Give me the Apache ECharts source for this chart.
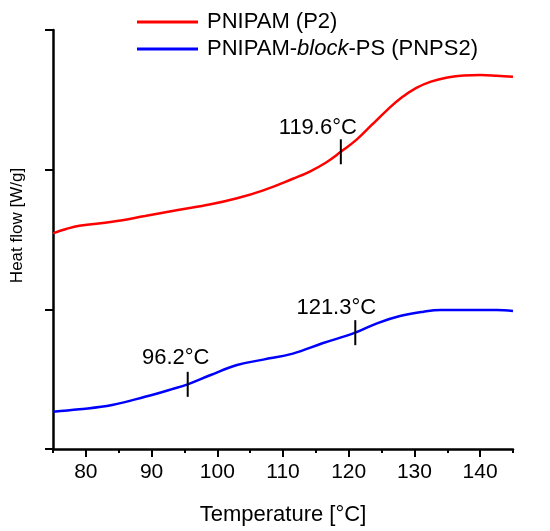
<!DOCTYPE html>
<html lang="en">
<head>
    <meta charset="UTF-8">
    <title>DSC</title>
    <style>
        html, body { margin: 0; padding: 0; background: #fff; }
    </style>
</head>
<body>
    <div id="main" style="width: 550px;height:531px;"></div>
    <script src="https://cdn.jsdelivr.net/npm/echarts@6/dist/echarts.min.js"></script>
<script type="text/javascript">
    // data
    var redT  = [75, 77, 79, 84, 89, 94, 99, 103, 107, 111.5, 114, 116.5, 118.8, 121.2, 123.5, 125.8, 128, 130.3, 132.5, 135, 137.5, 140, 142.5, 145];
    var redY  = [1.544, 1.575, 1.598, 1.627, 1.668, 1.711, 1.752, 1.795, 1.852, 1.935, 1.985, 2.050, 2.128, 2.215, 2.320, 2.425, 2.515, 2.585, 2.630, 2.660, 2.675, 2.678, 2.673, 2.665];
    var blueT = [75, 79, 84, 89, 93, 95.5, 99, 103, 107, 111.5, 116, 121, 124.3, 127.8, 131.4, 134, 139, 142.5, 145];
    var blueY = [0.267, 0.284, 0.315, 0.374, 0.427, 0.463, 0.530, 0.601, 0.640, 0.683, 0.757, 0.833, 0.900, 0.952, 0.983, 0.995, 0.995, 0.995, 0.988];

    var seriesNames = ['PNIPAM (P2)', 'PNIPAM-block-PS (PNPS2)'];

    // transition marks: [temperature, heat flow, text]
    var redMarks  = [[118.8, 2.128, '119.6°C']];
    var blueMarks = [[95.5, 0.463, '96.2°C'], [121, 0.833, '121.3°C']];
    var markOffsets = { '119.6°C': [-23, -24], '96.2°C': [-12, -26], '121.3°C': [-19, -25] };

    var xMajor = [80, 90, 100, 110, 120, 130, 140];
    var xMinor = [75, 85, 95, 105, 115, 125, 135, 145];

    var font = "'Liberation Sans', Arial, sans-serif";

    function pairs(xs, ys) {
        var arr = [];
        for (var i = 0; i < xs.length; i++) {
            arr.push([xs[i], ys[i]]);
        }
        return arr;
    }

    function marks(list) {
        return list.map(function (m) {
            return {
                coord: [m[0], m[1]],
                symbol: 'rect',
                symbolSize: [2, 25],
                itemStyle: { color: '#000' },
                label: {
                    show: true,
                    position: 'inside',
                    formatter: m[2],
                    offset: markOffsets[m[2]],
                    color: '#000',
                    fontSize: 22,
                    fontFamily: font
                }
            };
        });
    }

    var myChart = echarts.init(document.getElementById('main'));

    myChart.setOption({
        animation: false,
        color: ['#ff0000', '#0000ff'],
        grid: { left: 53, right: 37, top: 30, bottom: 82 },
        legend: {
            orient: 'vertical',
            left: 137,
            top: 11,
            padding: 0,
            itemWidth: 61,
            itemHeight: 3,
            itemGap: 5,
            icon: 'rect',
            data: seriesNames,
            formatter: function (name) {
                return name.replace('block', '{i|block}');
            },
            textStyle: {
                fontSize: 22,
                fontFamily: font,
                color: '#000',
                padding: [0, 0, 0, 4],
                rich: {
                    i: { fontSize: 22, fontFamily: font, fontStyle: 'italic', color: '#000' }
                }
            }
        },
        xAxis: [{
            type: 'value',
            min: 75,
            max: 145,
            name: 'Temperature [°C]',
            nameLocation: 'middle',
            nameGap: 55,
            nameTextStyle: { fontSize: 22, fontFamily: font, color: '#000' },
            axisLine: { lineStyle: { color: '#000', width: 2.5 } },
            axisTick: { customValues: xMajor, length: 8, lineStyle: { color: '#000', width: 2 } },
            axisLabel: { customValues: xMajor, margin: 13, fontSize: 21, fontFamily: font, color: '#000' },
            splitLine: { show: false }
        }, {
            type: 'value',
            min: 75,
            max: 145,
            position: 'bottom',
            axisLine: { show: false },
            axisTick: { customValues: xMinor, length: 4, lineStyle: { color: '#000', width: 2 } },
            axisLabel: { show: false },
            splitLine: { show: false }
        }],
        yAxis: {
            type: 'value',
            min: 0,
            max: 3,
            interval: 1,
            name: 'Heat flow [W/g]',
            nameLocation: 'middle',
            nameGap: 27,
            nameTextStyle: { fontSize: 17, fontFamily: font, color: '#000', padding: [0, 0, 0, 28] },
            axisLine: { show: true, lineStyle: { color: '#000', width: 2.5 } },
            axisTick: { show: true, length: 8, lineStyle: { color: '#000', width: 2 } },
            axisLabel: { show: false },
            splitLine: { show: false }
        },
        series: [{
            name: seriesNames[0],
            type: 'line',
            smooth: 0.4,
            showSymbol: false,
            lineStyle: { width: 2.5 },
            data: pairs(redT, redY),
            markPoint: { data: marks(redMarks) }
        }, {
            name: seriesNames[1],
            type: 'line',
            smooth: 0.4,
            showSymbol: false,
            lineStyle: { width: 2.5 },
            data: pairs(blueT, blueY),
            markPoint: { data: marks(blueMarks) }
        }]
    });
</script>
</body>
</html>
